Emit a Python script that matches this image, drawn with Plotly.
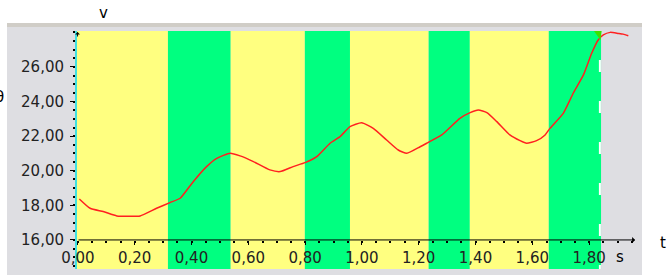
import plotly.graph_objects as go

# ---- data ----
t_vals = [0.005, 0.043, 0.089, 0.137, 0.18, 0.219, 0.277, 0.324, 0.36, 0.406, 0.453, 0.489,
          0.536, 0.571, 0.618, 0.676, 0.712, 0.758, 0.80, 0.841, 0.888, 0.923, 0.958, 0.999,
          1.04, 1.087, 1.128, 1.158, 1.205, 1.228, 1.281, 1.345, 1.381, 1.41, 1.44, 1.475,
          1.521, 1.557, 1.58, 1.615, 1.645, 1.662, 1.709, 1.744, 1.78, 1.809, 1.832, 1.85,
          1.874, 1.903, 1.92, 1.938]
v_vals = [18.37, 17.83, 17.64, 17.39, 17.37, 17.39, 17.83, 18.16, 18.41, 19.37, 20.24, 20.72,
          21.01, 20.86, 20.53, 20.05, 19.95, 20.24, 20.47, 20.82, 21.59, 21.97, 22.55, 22.78,
          22.45, 21.78, 21.2, 21.01, 21.39, 21.59, 22.07, 23.03, 23.36, 23.51, 23.36, 22.84,
          22.07, 21.74, 21.59, 21.74, 22.07, 22.45, 23.32, 24.48, 25.54, 26.79, 27.56, 27.85,
          28.0, 27.94, 27.9, 27.81]

band_edges = [0.0, 0.317, 0.538, 0.799, 0.958, 1.235, 1.380, 1.658, 1.842]
band_states = ["yellow", "green", "yellow", "green", "yellow", "green", "yellow", "green"]

x_ticks = [0.0, 0.2, 0.4, 0.6, 0.8, 1.0, 1.2, 1.4, 1.6, 1.8]
y_ticks = [16, 18, 20, 22, 24, 26]

x_range = [-0.0032, 1.9827]
y_range = [14.32, 28.08]
axis_y = 16
x_arrow_end = 1.962

# ---- style ----
FONT = "DejaVu Sans"
FS = 15
COL = {"yellow": "#ffff80", "green": "#00ff80"}
W, H = 671, 275
L, R, T, B = 77, 30, 31, 6
PW, PH = W - L - R, H - T - B

def px_x(p):
    return (p - L) / PW

def px_y(p):
    return (H - B - p) / PH

xpos = (axis_y - y_range[0]) / (y_range[1] - y_range[0])

fig = go.Figure()
fig.add_trace(go.Scatter(x=t_vals, y=v_vals, mode="lines",
                         line=dict(color="#ff2020", width=1.5, shape="spline", smoothing=0.5),
                         hoverinfo="skip", showlegend=False))

shapes = []
# gray panel
shapes.append(dict(type="rect", xref="paper", yref="paper", x0=px_x(7), x1=px_x(642),
                   y0=px_y(276), y1=px_y(27), fillcolor="#dedee2", line_width=0, layer="below"))
shapes.append(dict(type="rect", xref="paper", yref="paper", x0=px_x(7), x1=px_x(642),
                   y0=px_y(27), y1=px_y(23), fillcolor="#d0cdc7", line_width=0, layer="below"))
# bands
for i, st in enumerate(band_states):
    shapes.append(dict(type="rect", xref="x", yref="paper", x0=band_edges[i] if i else x_range[0],
                       x1=band_edges[i + 1], y0=0, y1=1, fillcolor=COL[st],
                       line_width=0, layer="below"))
# white dashed end marker
end = band_edges[-1]
shapes.append(dict(type="line", xref="x", yref="paper", x0=end - 0.004, x1=end - 0.004, y0=1, y1=0,
                   line=dict(color="white", width=2, dash="0px,29px,12px,0px"), layer="below"))
# small green cursor triangle
shapes.append(dict(type="path", xref="x", yref="paper",
                   path=f"M {end-0.025},1 L {end+0.002},1 L {end-0.002},{px_y(40)} Z",
                   fillcolor="#3ce000", line_width=0, layer="above"))

def label(px, py, text, xanchor="center"):
    return dict(xref="paper", yref="paper", x=px_x(px), y=px_y(py), text=text, showarrow=False,
                xanchor=xanchor, yanchor="middle", font=dict(family=FONT, size=FS, color="black"))

annotations = [
    label(103, 13, "v"),
    label(663, 243, "t"),
    label(620, 257, "s"),
    label(6, 97, "θ", xanchor="right"),
    # x axis arrow
    dict(xref="x", yref="y", axref="x", ayref="y", x=x_arrow_end, y=axis_y,
         ax=x_range[0], ay=axis_y, text="", showarrow=True, arrowhead=1, arrowsize=1,
         arrowwidth=1, arrowcolor="black"),
    # y axis arrow
    dict(xref="x", yref="paper", x=x_range[0] + 0.002, y=px_y(32), ax=0, ay=6, text="",
         showarrow=True, arrowhead=1, arrowsize=0.8, arrowwidth=1, arrowcolor="black"),
]

tickfont = dict(family=FONT, size=FS, color="#222222")
fig.update_layout(
    width=W, height=H, margin=dict(l=L, r=R, t=T, b=B, autoexpand=False),
    paper_bgcolor="white", plot_bgcolor="#dcdce0",
    separators=",.",
    shapes=shapes, annotations=annotations, showlegend=False,
    xaxis=dict(range=x_range, anchor="free", position=xpos, showline=False, showgrid=False,
               zeroline=False, tickvals=x_ticks, tickformat=".2f", ticks="outside", ticklen=4,
               tickcolor="black", tickwidth=1, tickfont=tickfont, automargin=False,
               minor=dict(dtick=0.05, tick0=0, ticks="outside", ticklen=2, tickwidth=1.5,
                          tickcolor="black", showgrid=False)),
    xaxis2=dict(range=x_range, overlaying="x", anchor="free", position=xpos, showline=False,
                showgrid=False, zeroline=False, tickvals=x_ticks, ticks="inside", ticklen=4,
                tickcolor="black", showticklabels=False, automargin=False),
    yaxis=dict(range=y_range, showline=True, linecolor="#40e0e0", linewidth=2, showgrid=False,
               zeroline=False, tickvals=y_ticks, tickformat=".2f", ticks="outside", ticklen=5,
               tickcolor="black", tickwidth=1, tickfont=tickfont, automargin=False,
               ticklabelstandoff=3,
               minor=dict(dtick=0.5, tick0=16, ticks="outside", ticklen=2, tickwidth=1.5,
                          tickcolor="black", showgrid=False)),
    yaxis2=dict(range=y_range, overlaying="y", anchor="x", side="left", showline=False,
                showgrid=False, zeroline=False, tickvals=y_ticks, ticks="inside", ticklen=5,
                tickcolor="black", showticklabels=False, automargin=False),
)

fig.write_html("out.html", config={"displayModeBar": False},
               post_script="document.body.style.margin='0';document.body.style.overflow='hidden';")
